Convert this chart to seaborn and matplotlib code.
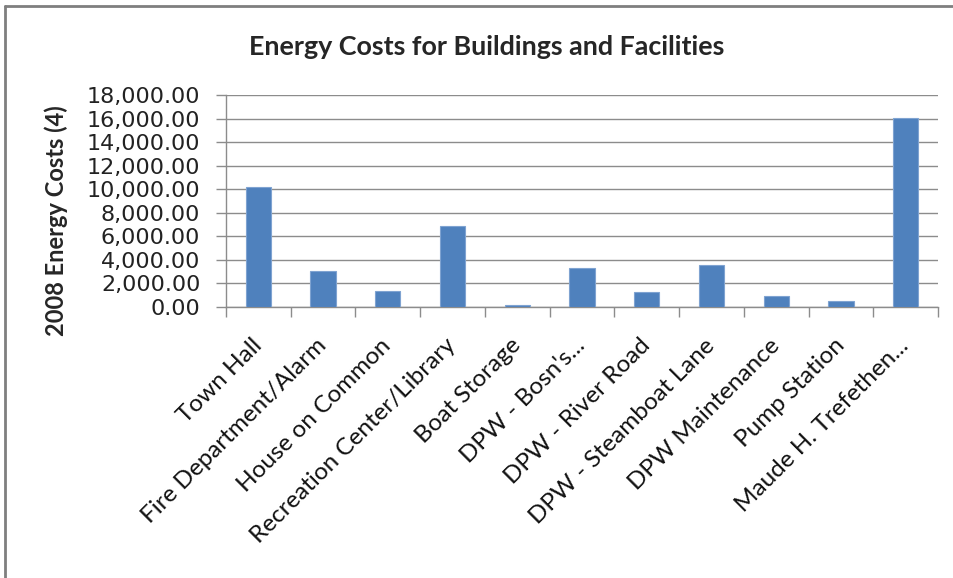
import matplotlib
matplotlib.use("Agg")
import matplotlib.pyplot as plt
import seaborn as sns
import pandas as pd
import numpy as np
from matplotlib.ticker import FuncFormatter, FixedLocator, MultipleLocator
from matplotlib.lines import Line2D

categories = ["Town Hall", "Fire Department/Alarm", "House on Common",
              "Recreation Center/Library", "Boat Storage", "DPW - Bosn's...",
              "DPW - River Road", "DPW - Steamboat Lane", "DPW Maintenance",
              "Pump Station", "Maude H. Trefethen..."]
costs = [10150, 3060, 1360, 6890, 150, 3320, 1250, 3520, 910, 480, 16030]

title = "Energy Costs for Buildings and Facilities"
ylabel = "2008 Energy Costs (4)"

sns.set_theme(style="white")
plt.rcParams['font.family'] = ['Lato', 'DejaVu Sans']

df = pd.DataFrame({"Building": categories, "Cost": costs})

fig = plt.figure(figsize=(9.54, 5.78), dpi=100)
ax = fig.add_axes([226/954, 1-306.7/578, (938-226)/954, (306.7-95)/578])

sns.barplot(data=df, x="Building", y="Cost", color="#4F81BD", width=0.39,
            saturation=1, edgecolor="#7FA3D1", linewidth=0.8, ax=ax, zorder=3)

ax.set_ylim(0, 18000)
ax.set_xlim(-0.5, len(categories) - 0.5)
ax.yaxis.set_major_locator(MultipleLocator(2000))
ax.yaxis.set_major_formatter(FuncFormatter(lambda v, p: f"{v:,.2f}"))
ax.grid(axis="y", color="#8C8C8C", linewidth=1.0, zorder=0)
ax.set_axisbelow(True)

for s in ["top", "right"]:
    ax.spines[s].set_visible(False)
for s in ["left", "bottom"]:
    ax.spines[s].set_color("#8C8C8C")
    ax.spines[s].set_linewidth(1.0)

ax.tick_params(axis="y", which="major", left=True, length=7, width=1.0,
               color="#8C8C8C", labelsize=16, pad=11.5, labelcolor="#222222")
for lab in ax.get_yticklabels():
    lab.set_fontfamily(['DejaVu Sans'])

ax.set_xticks(range(len(categories)))
ax.set_xticklabels(categories, rotation=45, ha="right", va="center",
                   rotation_mode="anchor", fontsize=17.5)
ax.tick_params(axis="x", which="major", bottom=False, length=0, pad=25.5, labelcolor="#111111")
ax.xaxis.set_minor_locator(FixedLocator(np.arange(-0.5, len(categories), 1.0)))
ax.tick_params(axis="x", which="minor", bottom=True, length=7, width=1.0, color="#8C8C8C")

ax.set_xlabel("")
ax.set_ylabel(ylabel, fontsize=17, fontweight="bold")
ax.yaxis.set_label_coords(-0.222, 0.405)

fig.text(487/954, 1-47/578, title, ha="center", va="center", fontsize=19.4,
         fontweight="bold")

fig.add_artist(Line2D([5/954, 1.0], [1-5.5/578, 1-5.5/578], transform=fig.transFigure,
                      color="#7F7F7F", linewidth=2.0))
fig.add_artist(Line2D([5/954, 5/954], [0, 1-5.5/578], transform=fig.transFigure,
                      color="#7F7F7F", linewidth=2.0))

fig.savefig("out.png", dpi=100)
